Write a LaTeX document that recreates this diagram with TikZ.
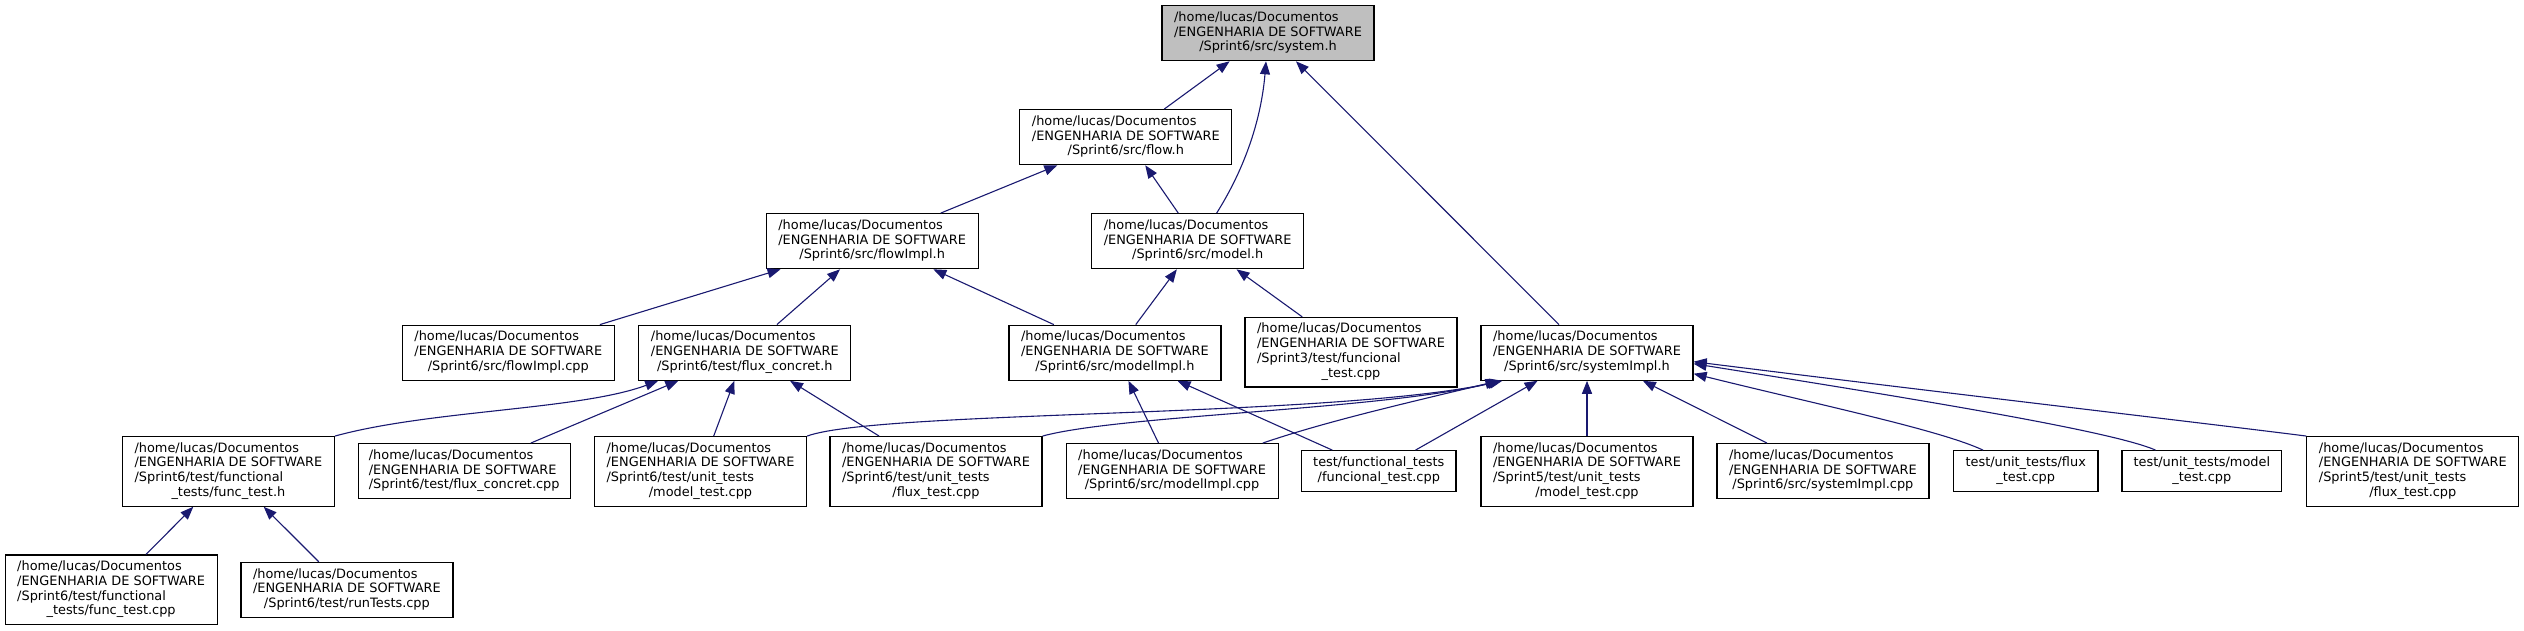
\documentclass[tikz,border=0pt]{standalone}
\usepackage{fontspec}
\setmainfont{DejaVu Sans}
\usetikzlibrary{arrows.meta,calc}
\definecolor{edgeblue}{HTML}{191970}
\definecolor{rootgray}{HTML}{BFBFBF}
\newcommand{\labtwo}[2]{\begin{tabular}{@{}l@{}}#1\\\multicolumn{1}{@{}c@{}}{#2}\end{tabular}}
\newcommand{\labthree}[3]{\begin{tabular}{@{}l@{}}#1\\#2\\\multicolumn{1}{@{}c@{}}{#3}\end{tabular}}
\newcommand{\labfour}[4]{\begin{tabular}{@{}l@{}}#1\\#2\\#3\\\multicolumn{1}{@{}c@{}}{#4}\end{tabular}}
\newcommand{\hl}{/home/lucas/Documentos}
\newcommand{\es}{/ENGENHARIA DE SOFTWARE}
\begin{document}
\begin{tikzpicture}[x=1pt,y=-1pt,
  fbox/.style={draw=black, line width=1.2pt, fill=white, inner sep=0pt,
    minimum width=212pt, minimum height=55pt,
    font=\fontsize{12.9}{14.8}\selectfont},
  tall/.style={minimum height=69.5pt},
  short/.style={minimum height=40.6pt},
  edge/.style={draw=edgeblue, line width=1.1pt, {Triangle[length=13pt,width=10pt]}-}]
\useasboundingbox (0,0) rectangle (2524,631);

% nodes
\node[fbox, fill=rootgray] (sys) at (1268,33.2) {\labthree{\hl}{\es}{/Sprint6/src/system.h}};
\node[fbox] (flow) at (1125.8,137.2) {\labthree{\hl}{\es}{/Sprint6/src/flow.h}};
\node[fbox] (model) at (1197.7,241.2) {\labthree{\hl}{\es}{/Sprint6/src/model.h}};
\node[fbox] (flowImplh) at (872.2,241.2) {\labthree{\hl}{\es}{/Sprint6/src/flowImpl.h}};
\node[fbox] (flowImplcpp) at (508.3,352.7) {\labthree{\hl}{\es}{/Sprint6/src/flowImpl.cpp}};
\node[fbox] (fluxh) at (744.8,352.7) {\labthree{\hl}{\es}{/Sprint6/test/flux\_concret.h}};
\node[fbox] (modelImplh) at (1114.9,352.7) {\labthree{\hl}{\es}{/Sprint6/src/modelImpl.h}};
\node[fbox, tall] (sthreefunc) at (1351,352.2) {\labfour{\hl}{\es}{/Sprint3/test/funcional}{\_test.cpp}};
\node[fbox] (sysImplh) at (1587,352.7) {\labthree{\hl}{\es}{/Sprint6/src/systemImpl.h}};
\node[fbox, tall] (functesth) at (228.4,471.4) {\labfour{\hl}{\es}{/Sprint6/test/functional}{\_tests/func\_test.h}};
\node[fbox] (fluxcpp) at (464.2,471.2) {\labthree{\hl}{\es}{/Sprint6/test/flux\_concret.cpp}};
\node[fbox, tall] (ssixmodel) at (700.5,471.4) {\labfour{\hl}{\es}{/Sprint6/test/unit\_tests}{/model\_test.cpp}};
\node[fbox, tall] (ssixflux) at (936,471.4) {\labfour{\hl}{\es}{/Sprint6/test/unit\_tests}{/flux\_test.cpp}};
\node[fbox] (modelImplcpp) at (1172.1,471.2) {\labthree{\hl}{\es}{/Sprint6/src/modelImpl.cpp}};
\node[fbox, short, minimum width=154.3pt] (tfunc) at (1378.8,471) {\labtwo{test/functional\_tests}{/funcional\_test.cpp}};
\node[fbox, tall] (sfivemodel) at (1587,471.4) {\labfour{\hl}{\es}{/Sprint5/test/unit\_tests}{/model\_test.cpp}};
\node[fbox] (sysImplcpp) at (1822.9,471.2) {\labthree{\hl}{\es}{/Sprint6/src/systemImpl.cpp}};
\node[fbox, short, minimum width=144.5pt] (tuflux) at (2025.7,471) {\labtwo{test/unit\_tests/flux}{\_test.cpp}};
\node[fbox, short, minimum width=159.6pt] (tumodel) at (2201.8,471) {\labtwo{test/unit\_tests/model}{\_test.cpp}};
\node[fbox, tall] (sfiveflux) at (2412.8,471.4) {\labfour{\hl}{\es}{/Sprint5/test/unit\_tests}{/flux\_test.cpp}};
\node[fbox, tall] (functestcpp) at (111.1,589.7) {\labfour{\hl}{\es}{/Sprint6/test/functional}{\_tests/func\_test.cpp}};
\node[fbox] (runtests) at (346.9,589.9) {\labthree{\hl}{\es}{/Sprint6/test/runTests.cpp}};

% edges (arrow at the included file)
\draw[edge] (sys) -- (flow);
\draw[edge] (sys.266) .. controls (1262,110) and (1250,160) .. (model.56);
\draw[edge] (sys) -- (sysImplh);
\draw[edge] (flow) -- (model);
\draw[edge] (flow) -- (flowImplh);
\draw[edge] (flowImplh) -- (flowImplcpp);
\draw[edge] (flowImplh) -- (fluxh);
\draw[edge] (flowImplh) -- (modelImplh);
\draw[edge] (model) -- (modelImplh);
\draw[edge] (model) -- (sthreefunc);
\draw[edge] ($(fluxh.south west)+(20,0)$) .. controls (580,410) and (430,410) .. (functesth.north east);
\draw[edge] (fluxh) -- (fluxcpp);
\draw[edge] (fluxh) -- (ssixmodel);
\draw[edge] (fluxh) -- (ssixflux);
\draw[edge] (functesth) -- (functestcpp);
\draw[edge] (functesth) -- (runtests);
\draw[edge] (modelImplh) -- (modelImplcpp);
\draw[edge] (modelImplh) -- (tfunc);
\draw[edge] ($(sysImplh.south west)+(22,0)$) .. controls (1330,418) and (880,410) .. (ssixmodel.north east);
\draw[edge] ($(sysImplh.south west)+(20,0)$) .. controls (1380,410) and (1120,415) .. (ssixflux.north east);
\draw[edge] ($(sysImplh.south west)+(18,0)$) .. controls (1420,400) and (1330,420) .. ($(modelImplcpp.north east)+(-16,0)$);
\draw[edge] (sysImplh) -- (tfunc);
\draw[edge] (sysImplh) -- (sfivemodel);
\draw[edge] (sysImplh) -- (sysImplcpp);
\draw[edge] ($(sysImplh.east)+(0,21)$) .. controls (1820,405) and (1940,430) .. ($(tuflux.north)+(-42.7,0)$);
\draw[edge] ($(sysImplh.east)+(0,11)$) .. controls (1890,395) and (2110,430) .. ($(tumodel.north)+(-46.3,0)$);
\draw[edge] ($(sysImplh.east)+(0,9)$) .. controls (1920,390) and (2220,425) .. (sfiveflux.north west);
\end{tikzpicture}
\end{document}
